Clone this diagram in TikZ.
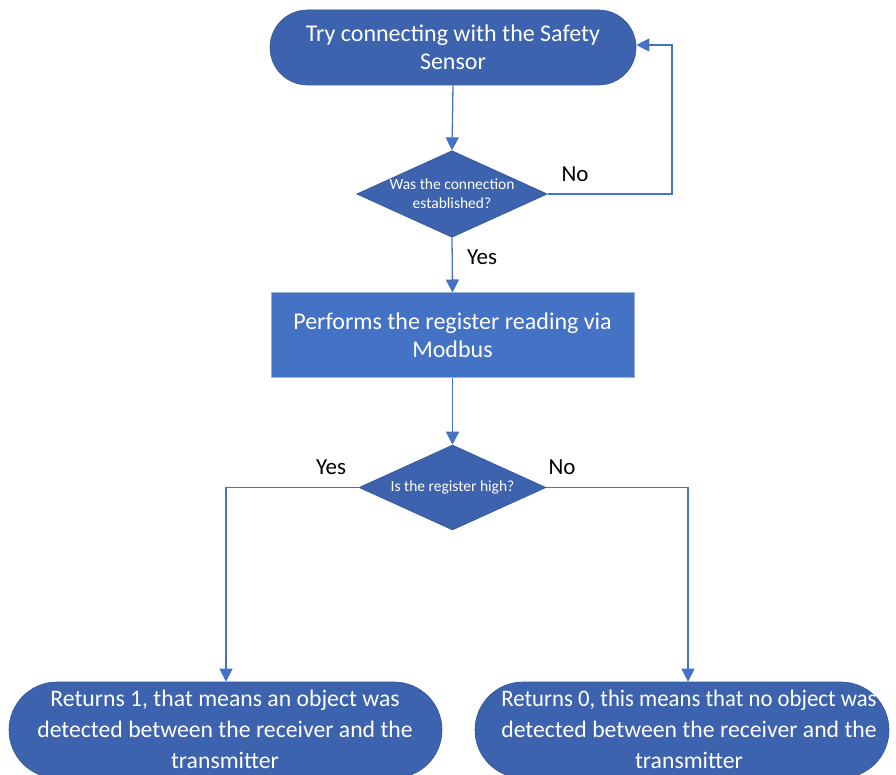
\documentclass[tikz,border=0pt]{standalone}
\usepackage{graphicx}
\usepackage{fontspec}
\setmainfont{Carlito}
\usetikzlibrary{shapes.geometric,shapes.misc,arrows.meta}
\definecolor{termblue}{HTML}{3D63AE}
\definecolor{procblue}{HTML}{4472C4}
\definecolor{edgeblue}{HTML}{2F5597}
\definecolor{procedge}{HTML}{9DB1D8}
\definecolor{linkblue}{HTML}{4472C4}
\tikzset{
  x=1pt, y=-1pt,
  terminal/.style={rounded rectangle, fill=termblue, draw=edgeblue, line width=0.6pt,
    inner sep=0pt},
  termtext/.style={text=white, align=center, inner sep=0pt,
    font=\fontsize{24}{28}\selectfont},
  process/.style={rectangle, fill=procblue, draw=procedge, line width=1pt,
    text=white, align=center, inner sep=0pt,
    font=\fontsize{24}{28}\selectfont},
  decision/.style={diamond, fill=termblue, draw=edgeblue, line width=0.6pt,
    text=white, align=center, inner sep=0pt, aspect=2.2,
    font=\fontsize{15.5}{19}\selectfont},
  link/.style={draw=linkblue, line width=1.3pt,
    -{Triangle[width=13pt,length=13pt]}},
  answer/.style={text=black, font=\fontsize{23}{26}\selectfont, inner sep=0pt}
}
\begin{document}
\begin{tikzpicture}
\useasboundingbox (0,0) rectangle (896,775);
\clip (0,0) rectangle (896,775);

% terminal shapes (text set on top of them)
\node[terminal, minimum width=366pt, minimum height=75pt] (try) at (453,47.5) {};
\node[termtext] (try-text) at (try.center) {Try connecting with the Safety\\Sensor};
\node[terminal, minimum width=433pt, minimum height=96pt] (one) at (225.5,730) {};
\node[termtext, font=\fontsize{23.7}{31}\selectfont] (one-text) at (225,729)
  {Returns 1, that means an object was\\detected between the receiver and the\\transmitter};
\node[terminal, minimum width=414pt, minimum height=96pt] (zero) at (682,730) {};
\node[termtext, font=\fontsize{23.7}{31}\selectfont] (zero-text) at (689,729)
  {\scalebox{0.96}[1]{Returns 0, this means that no object was}\\detected between the receiver and the\\transmitter};

% decisions and process
\node[decision, minimum width=188pt, minimum height=84pt] (conn) at (452,194)
  {Was the connection\\established?};
\node[process, minimum width=363pt, minimum height=84pt] (read) at (452.5,335)
  {Performs the register reading via\\Modbus};
\node[decision, minimum width=187pt, minimum height=85pt] (high) at (452.5,487.5)
  {Is the register high?};

% connectors
\coordinate (loopA) at (672,194);
\coordinate (loopB) at (672,45);
\coordinate (leftA) at (226,487.5);
\coordinate (rightA) at (688,487.5);

\draw[link] (try.south) -- (conn.north);
\draw[link] (conn.east) -- (loopA) -- (loopB) -- (try.east |- loopB);
\draw[link] (conn.south) -- (read.north);
\draw[link] (read.south) -- (high.north);
\draw[link] (high.west) -- (leftA) -- (leftA |- one.north);
\draw[link] (high.east) -- (rightA) -- (rightA |- zero.north);

% branch labels
\node[answer] (no1) at (575,174) {No};
\node[answer] (yes1) at (482,257) {Yes};
\node[answer] (yes2) at (331,467) {Yes};
\node[answer] (no2) at (562,467) {No};
\end{tikzpicture}
\end{document}
